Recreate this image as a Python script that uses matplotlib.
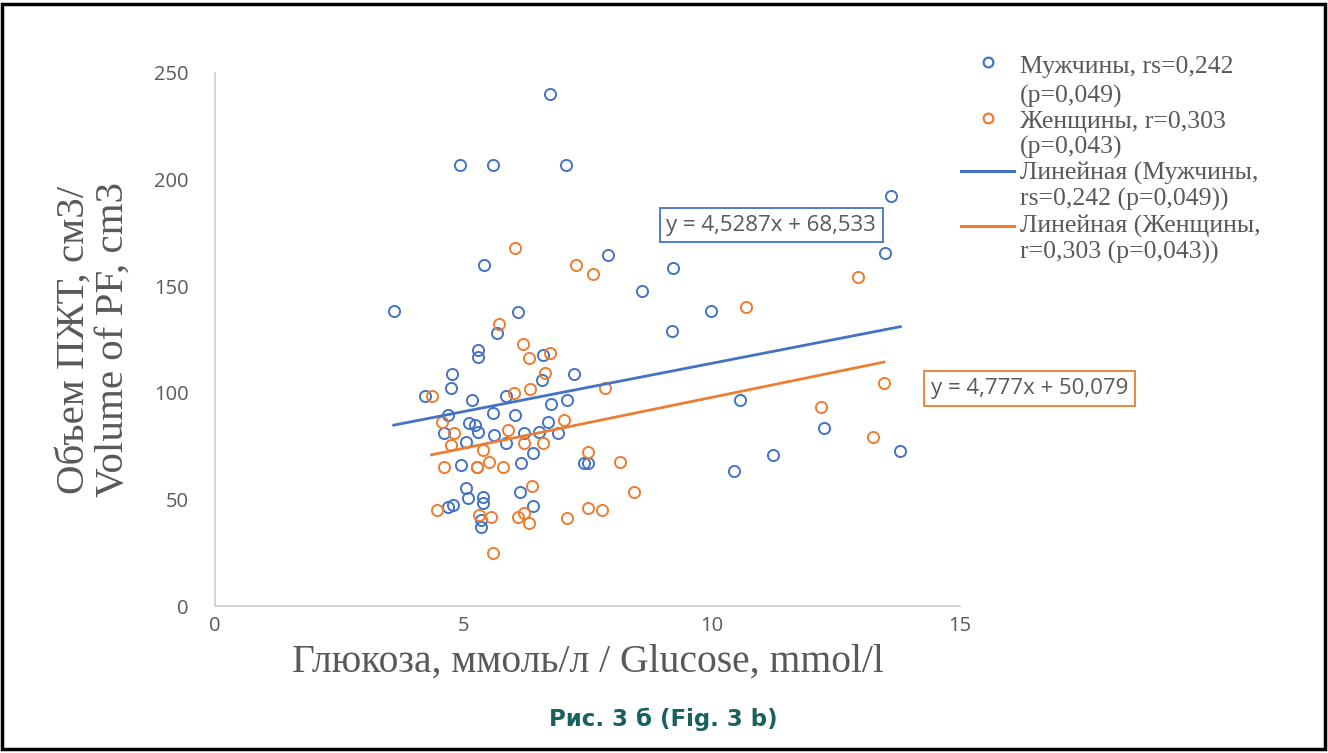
import matplotlib
matplotlib.use("Agg")
import matplotlib.pyplot as plt
from matplotlib.lines import Line2D
from matplotlib.patches import Rectangle
import numpy as np

# ---------------- data ----------------
men_x = [3.6, 6.75, 4.94, 5.60, 7.07, 5.42, 7.91, 13.61, 13.49, 9.22, 8.59, 9.98,
         9.20, 10.58, 7.23, 7.43, 7.51, 10.44, 11.24, 12.27, 13.80, 6.10, 5.68,
         5.30, 5.30, 6.61, 6.59, 4.78, 4.76, 4.22, 5.18, 5.86, 6.77, 7.09, 5.60,
         6.04, 4.70, 5.12, 5.24, 6.71, 4.62, 5.30, 5.62, 6.22, 6.53, 6.91, 5.06,
         5.86, 6.41, 4.96, 5.28, 6.16, 5.06, 5.10, 4.80, 4.70, 5.40, 5.40, 5.36,
         5.36, 6.14, 6.41]
men_y = [138.5, 240, 206.8, 206.8, 206.8, 160, 164.6, 192.3, 165.6, 158.5, 147.8,
         138.4, 129, 96.6, 109, 67, 67, 63.3, 70.8, 83.5, 72.7, 138, 128.1, 120.1,
         116.8, 117.7, 106, 108.8, 102.3, 98.5, 96.6, 98.5, 94.7, 96.6, 90.5, 89.6,
         89.6, 85.8, 84.9, 86.3, 81.1, 81.6, 80.2, 81.1, 81.6, 81.1, 77, 76.5,
         71.8, 66.1, 65.2, 67, 55.3, 50.7, 47.4, 46.4, 51.1, 48.3, 40.3, 37, 53.5,
         46.9]

women_x = [6.04, 7.27, 7.61, 10.70, 7.85, 12.95, 13.47, 12.21, 13.25, 7.51, 8.15,
           8.43, 7.51, 7.79, 5.72, 6.20, 6.33, 6.75, 6.65, 4.36, 6.02, 6.35, 4.58,
           7.03, 4.82, 5.90, 4.76, 5.40, 6.22, 6.61, 4.62, 5.28, 5.52, 5.80, 4.46,
           5.32, 5.56, 6.39, 6.10, 6.22, 6.33, 7.09, 5.60]
women_y = [167.9, 160, 155.7, 140.2, 102.3, 154.3, 104.6, 93.3, 79.3, 72.2, 67.5,
           53.5, 46, 45, 132.3, 122.9, 116.3, 118.7, 109.3, 98.5, 99.9, 101.8, 86.3,
           87.2, 81.1, 82.6, 75.5, 73.2, 76.5, 76.5, 65.2, 65.2, 67.5, 65.2, 45,
           42.7, 41.7, 56.3, 41.7, 43.6, 38.9, 41.3, 24.9]

men_slope, men_intercept = 4.5287, 68.533
women_slope, women_intercept = 4.777, 50.079

x_ticks = [0, 5, 10, 15]
y_ticks = [0, 50, 100, 150, 200, 250]

men_label = ["Мужчины, rs=0,242", "(p=0,049)"]
women_label = ["Женщины, r=0,303", "(p=0,043)"]
men_trend_label = ["Линейная (Мужчины,", "rs=0,242 (p=0,049))"]
women_trend_label = ["Линейная (Женщины,", "r=0,303 (p=0,043))"]
men_eq = "y = 4,5287x + 68,533"
women_eq = "y = 4,777x + 50,079"
x_label = "Глюкоза, ммоль/л / Glucose, mmol/l"
y_label = "Объем ПЖТ, см3/\nVolume of PF, cm3"
caption = "Рис. 3 б (Fig. 3 b)"

# ---------------- style ----------------
BLUE = "#4472C4"
ORANGE = "#ED7D31"
GRAY = "#595959"
W, H = 1328, 753

fig = plt.figure(figsize=(W / 100, H / 100), dpi=100)
ax = fig.add_axes([215 / W, 1 - 606 / H, (960 - 215) / W, (606 - 73) / H])

ms = 8
mew = 1.4
ax.plot(men_x, men_y, linestyle="none", marker="o", markersize=ms,
        markerfacecolor="none", markeredgecolor=BLUE, markeredgewidth=mew, zorder=3)
ax.plot(women_x, women_y, linestyle="none", marker="o", markersize=ms,
        markerfacecolor="none", markeredgecolor=ORANGE, markeredgewidth=mew, zorder=3)

mx = np.array([min(men_x), max(men_x)])
wx = np.array([min(women_x), max(women_x)])
ax.plot(mx, men_slope * mx + men_intercept, color=BLUE, lw=2.0, zorder=4)
ax.plot(wx, women_slope * wx + women_intercept, color=ORANGE, lw=2.0, zorder=4)

ax.set_xlim(0, 15)
ax.set_ylim(0, 250)
ax.set_xticks(x_ticks)
ax.set_yticks(y_ticks)
for s in ["top", "right"]:
    ax.spines[s].set_visible(False)
for s in ["left", "bottom"]:
    ax.spines[s].set_color("#D0D0D0")
    ax.spines[s].set_linewidth(1.3)
ax.tick_params(length=0, labelsize=14.5, labelcolor=GRAY)
ax.tick_params(axis="y", pad=19)
ax.tick_params(axis="x", pad=7)
for lab in ax.get_xticklabels() + ax.get_yticklabels():
    lab.set_family("Open Sans")

ax.set_xlabel(x_label, fontsize=28.5, color=GRAY, family="Liberation Serif", labelpad=6)
ax.text(-0.163, 0.5, y_label, transform=ax.transAxes, rotation=90, ha="center",
        va="center", fontsize=29.5, color=GRAY, family="Liberation Serif",
        linespacing=1.05, multialignment="center")

# equation boxes
ax.text(11.2, 178.7, men_eq, ha="center", va="center", fontsize=16, color=GRAY,
        family="Open Sans",
        bbox=dict(boxstyle="square,pad=0.3", fc="white", ec=BLUE, lw=1.3), zorder=5)
ax.text(16.4, 102, women_eq, ha="center", va="center", fontsize=16, color=GRAY,
        family="Open Sans", clip_on=False,
        bbox=dict(boxstyle="square,pad=0.3", fc="white", ec=ORANGE, lw=1.3), zorder=5)

# legend (drawn manually to mimic Excel layout)
def fx(px):
    return px / W

def fy(py):
    return 1 - py / H

leg_font = dict(fontsize=18.5, color=GRAY, family="Liberation Serif",
                va="center", ha="left")
entries = [
    ("marker", BLUE, men_label, 62, (67, 96)),
    ("marker", ORANGE, women_label, 118, (122, 147)),
    ("line", BLUE, men_trend_label, 171, (173, 199)),
    ("line", ORANGE, women_trend_label, 226, (226, 252)),
]
for kind, col, lab, hy, tys in entries:
    if kind == "marker":
        fig.add_artist(Line2D([fx(988)], [fy(hy)], marker="o", markersize=7,
                              markerfacecolor="none", markeredgecolor=col,
                              markeredgewidth=1.6, linestyle="none"))
    else:
        fig.add_artist(Line2D([fx(961), fx(1014)], [fy(hy), fy(hy)], color=col, lw=2.2))
    for line, ty in zip(lab, tys):
        fig.text(fx(1020), fy(ty), line, **leg_font)

fig.text(fx(663), fy(719), caption, ha="center", va="center", fontsize=16.5,
         fontweight="bold", color="#17615E", family="DejaVu Sans")

fig.add_artist(Rectangle((fx(2), fy(749)), fx(1323), fy(4) - fy(749),
                         transform=fig.transFigure, fill=False, ec="black", lw=2.5))

fig.savefig("out.png", dpi=100, facecolor="white")
